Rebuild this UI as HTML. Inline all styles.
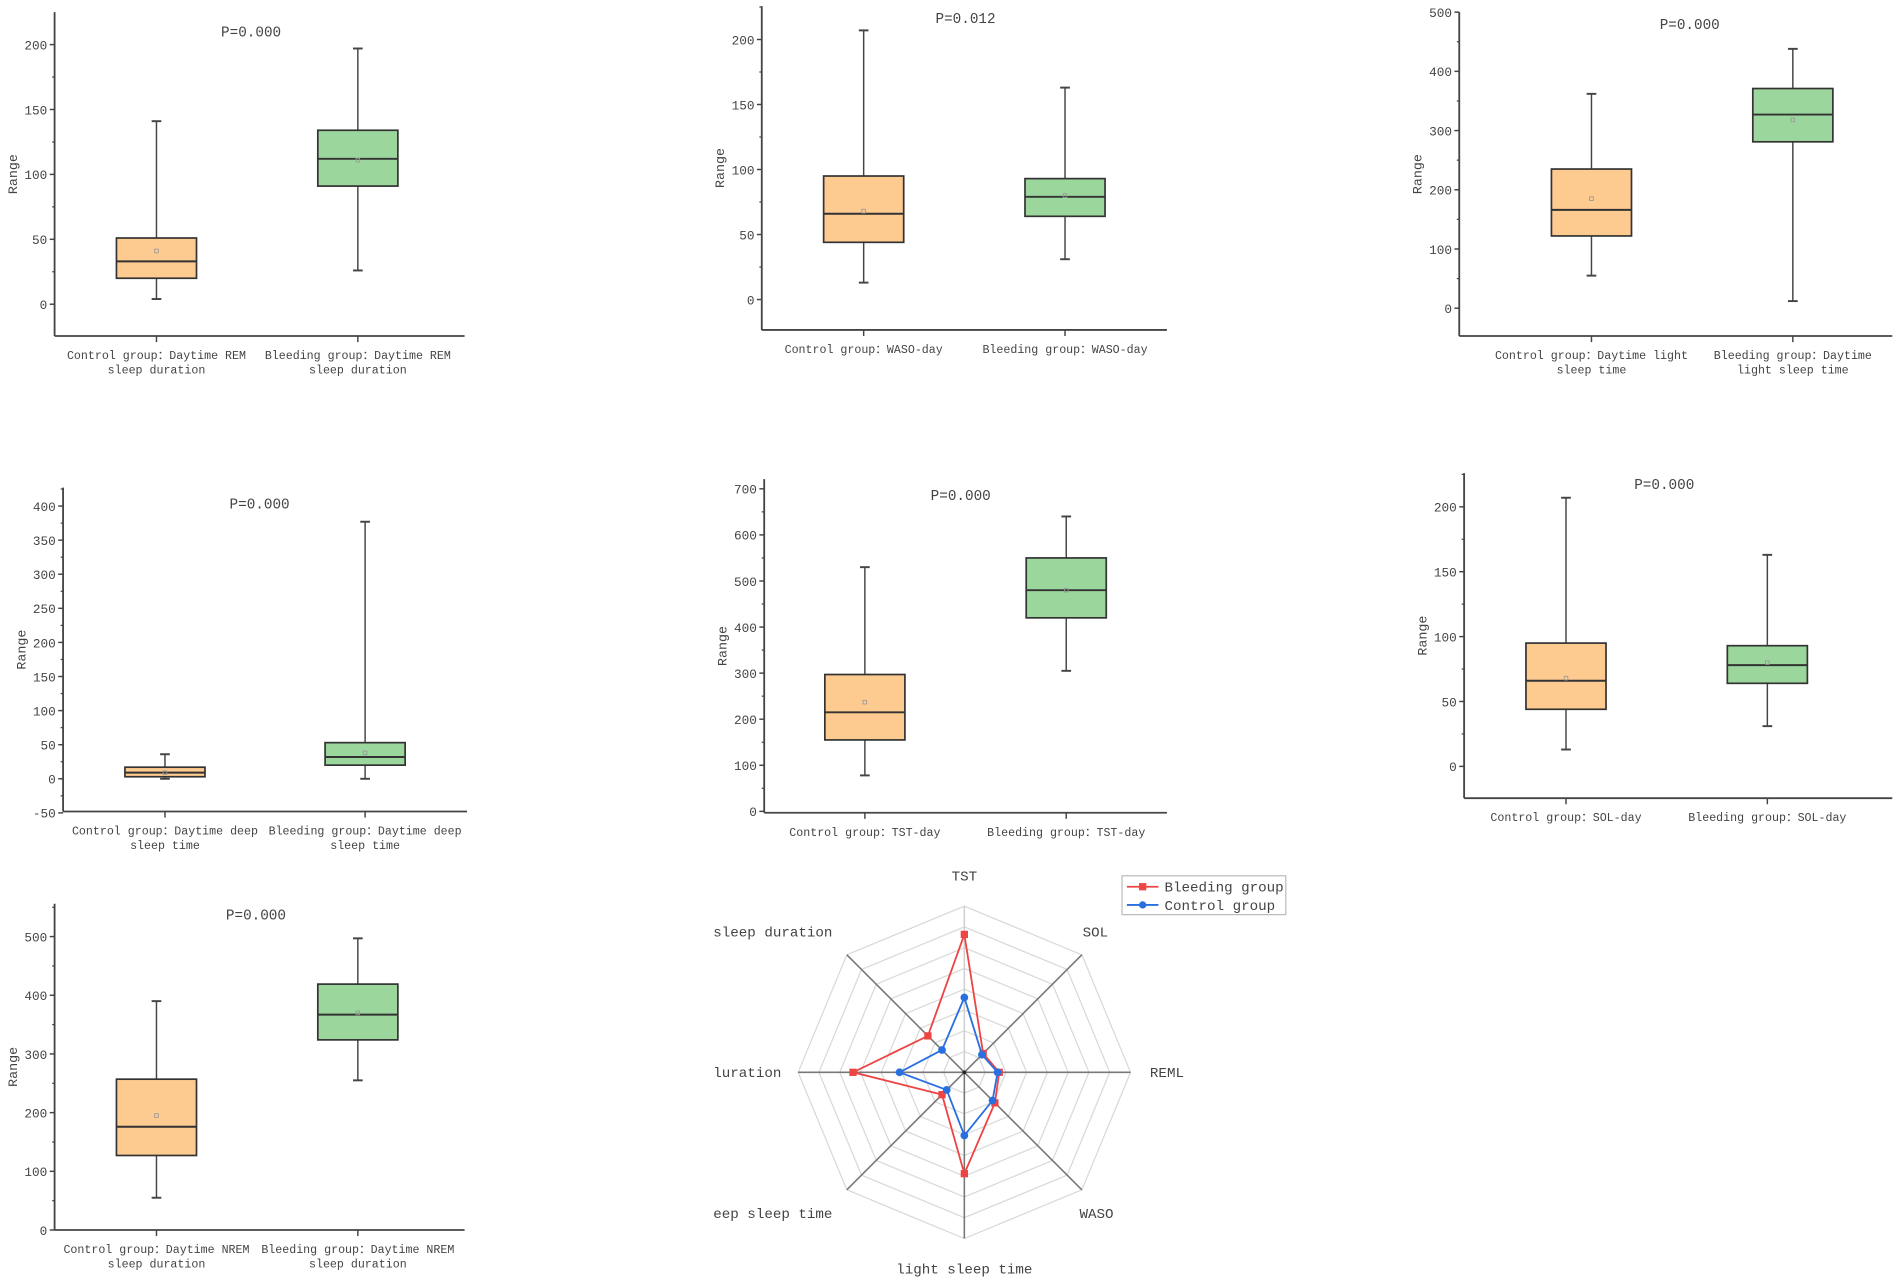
<!DOCTYPE html>
<html><head><meta charset="utf-8">
<style>
html,body{margin:0;padding:0;background:#fff;}
svg{display:block;}
text{font-family:"Liberation Mono","Noto Sans CJK SC",monospace;fill:#444;}
</style></head>
<body>
<svg id="root" width="1902" height="1284" viewBox="0 0 1568 1058.5" xmlns="http://www.w3.org/2000/svg"></svg>
<script>
// ---- Box plot data ----
const groups = ["Control group", "Bleeding group"];
const c1Labels = [["Control group：Daytime REM","sleep duration"],["Bleeding group：Daytime REM","sleep duration"]];
const c1Low=[4,26], c1Q1=[20,91], c1Med=[33,112], c1Q3=[51,134], c1High=[141,197], c1Mean=[41,111];
const c1Ticks=[0,50,100,150,200];
const c2Labels = [["Control group：WASO-day"],["Bleeding group：WASO-day"]];
const c2Low=[13,31], c2Q1=[44,64], c2Med=[66,79], c2Q3=[95,93], c2High=[207,163], c2Mean=[68,80];
const c2Ticks=[0,50,100,150,200];
const c3Labels = [["Control group：Daytime light","sleep time"],["Bleeding group：Daytime","light sleep time"]];
const c3Low=[55,12], c3Q1=[122,281], c3Med=[166,327], c3Q3=[235,371], c3High=[362,438], c3Mean=[185,318];
const c3Ticks=[0,100,200,300,400,500];
const c4Labels = [["Control group：Daytime deep","sleep time"],["Bleeding group：Daytime deep","sleep time"]];
const c4Low=[0,0], c4Q1=[3,20], c4Med=[9,32], c4Q3=[17,53], c4High=[36,377], c4Mean=[9,38];
const c4Ticks=[-50,0,50,100,150,200,250,300,350,400];
const c5Labels = [["Control group：TST-day"],["Bleeding group：TST-day"]];
const c5Low=[78,305], c5Q1=[155,420], c5Med=[215,480], c5Q3=[297,550], c5High=[530,640], c5Mean=[237,480];
const c5Ticks=[0,100,200,300,400,500,600,700];
const c6Labels = [["Control group：SOL-day"],["Bleeding group：SOL-day"]];
const c6Low=[13,31], c6Q1=[44,64], c6Med=[66,78], c6Q3=[95,93], c6High=[207,163], c6Mean=[68,80];
const c6Ticks=[0,50,100,150,200];
const c7Labels = [["Control group：Daytime NREM","sleep duration"],["Bleeding group：Daytime NREM","sleep duration"]];
const c7Low=[55,255], c7Q1=[127,324], c7Med=[176,367], c7Q3=[257,419], c7High=[390,497], c7Mean=[195,370];
const c7Ticks=[0,100,200,300,400,500];
const pValues=["P=0.000","P=0.012","P=0.000","P=0.000","P=0.000","P=0.000","P=0.000"];

// ---- Radar data ----
const radarAxes=["TST","SOL","REML","WASO","light sleep time","eep sleep time","luration","sleep duration"];
const radarBleeding=[0.83,0.16,0.21,0.26,0.61,0.19,0.67,0.31];
const radarControl=[0.45,0.15,0.20,0.24,0.38,0.15,0.39,0.19];

const NS="http://www.w3.org/2000/svg";
const root=document.getElementById('root');
function mk(tag,attrs,parent){const e=document.createElementNS(NS,tag);for(const k in attrs)e.setAttribute(k,attrs[k]);(parent||root).appendChild(e);return e;}

const layouts=[
 {ax:45,top:10,bot:277,right:383,vTop:225,vBot:-24.5,cx:[129,295],px:207,py:30},
 {ax:628,top:5,bot:272,right:962,vTop:225.7,vBot:-23.4,cx:[712,878],px:796,py:19},
 {ax:1203,top:10,bot:277,right:1560,vTop:500,vBot:-47,cx:[1312,1478],px:1393,py:24},
 {ax:52,top:402,bot:669,right:385,vTop:427,vBot:-48,cx:[136,301],px:214,py:419},
 {ax:630,top:395,bot:670,right:962,vTop:721,vBot:-3,cx:[713,879],px:792,py:412},
 {ax:1207,top:390,bot:658,right:1560,vTop:226,vBot:-24.5,cx:[1291,1457],px:1372,py:403},
 {ax:45,top:745,bot:1014,right:383,vTop:556,vBot:0,cx:[129,295],px:211,py:758}
];
const charts=[
 [c1Labels,c1Low,c1Q1,c1Med,c1Q3,c1High,c1Mean,c1Ticks],
 [c2Labels,c2Low,c2Q1,c2Med,c2Q3,c2High,c2Mean,c2Ticks],
 [c3Labels,c3Low,c3Q1,c3Med,c3Q3,c3High,c3Mean,c3Ticks],
 [c4Labels,c4Low,c4Q1,c4Med,c4Q3,c4High,c4Mean,c4Ticks],
 [c5Labels,c5Low,c5Q1,c5Med,c5Q3,c5High,c5Mean,c5Ticks],
 [c6Labels,c6Low,c6Q1,c6Med,c6Q3,c6High,c6Mean,c6Ticks],
 [c7Labels,c7Low,c7Q1,c7Med,c7Q3,c7High,c7Mean,c7Ticks]
];
const fills=["#fdca8f","#9bd69c"];

charts.forEach((c,i)=>{
  const L=layouts[i];
  const [labels,low,q1,med,q3,high,mean,ticks]=c;
  const y=v=>L.bot-(v-L.vBot)/(L.vTop-L.vBot)*(L.bot-L.top);
  const g=mk('g',{});
  
  
  const ya=mk('line',{x1:L.ax,y1:L.top,x2:L.ax,y2:L.bot,stroke:'#444','stroke-width':1.5},g);
  
  
  const xa=mk('line',{x1:L.ax,y1:L.bot,x2:L.right,y2:L.bot,stroke:'#444','stroke-width':1.5},g);
  
  
  const step=ticks[1]-ticks[0];
  ticks.forEach((t,k)=>{
    mk('line',{x1:L.ax-4,y1:y(t),x2:L.ax,y2:y(t),stroke:'#444','stroke-width':1.2},g);
    const mv=t+step/2;
    if(y(mv)>L.top) mk('line',{x1:L.ax-2,y1:y(mv),x2:L.ax,y2:y(mv),stroke:'#444','stroke-width':1},g);
    const tl=mk('text',{x:L.ax-6,y:y(t)+4,'text-anchor':'end','font-size':10.5},g);
    tl.textContent=t;
    
    
  });
  const ymid=(L.top+L.bot)/2;
  const yt=mk('text',{x:L.ax-31,y:ymid,'text-anchor':'middle','font-size':11,transform:`rotate(-90 ${L.ax-31} ${ymid})`},g);
  yt.textContent='Range';
  
  
  const pt=mk('text',{x:L.px,y:L.py,'text-anchor':'middle','font-size':11.8,fill:'#222'},g);
  pt.textContent=pValues[i];
  
  
  for(let j=0;j<2;j++){
    const cx=L.cx[j], hw=33;
    const bg=mk('g',{},g);
    
    
    mk('line',{x1:cx,y1:L.bot,x2:cx,y2:L.bot+5,stroke:'#444','stroke-width':1.2},bg);
    mk('line',{x1:cx,y1:y(high[j]),x2:cx,y2:y(low[j]),stroke:'#444','stroke-width':1.2},bg);
    mk('line',{x1:cx-4,y1:y(high[j]),x2:cx+4,y2:y(high[j]),stroke:'#444','stroke-width':1.6},bg);
    mk('line',{x1:cx-4,y1:y(low[j]),x2:cx+4,y2:y(low[j]),stroke:'#444','stroke-width':1.6},bg);
    mk('rect',{x:cx-hw,y:y(q3[j]),width:2*hw,height:y(q1[j])-y(q3[j]),fill:fills[j],stroke:'#333','stroke-width':1.4},bg);
    mk('line',{x1:cx-hw,y1:y(med[j]),x2:cx+hw,y2:y(med[j]),stroke:'#333','stroke-width':1.6},bg);
    mk('rect',{x:cx-1.5,y:y(mean[j])-1.5,width:3,height:3,fill:'none',stroke:'#999','stroke-width':0.7},bg);
    labels[j].forEach((s,k)=>{
      const t=mk('text',{x:cx,y:L.bot+19+k*12,'text-anchor':'middle','font-size':9.6},g);
      t.textContent=s;
      
      
    });
  }
});

// ---- Radar ----
const RC={x:795,y:884,r:137};
const rg=mk('g',{});


const n=radarAxes.length;
const ang=k=>-Math.PI/2+k*2*Math.PI/n;
const pt=(k,f)=>[RC.x+Math.cos(ang(k))*RC.r*f,RC.y+Math.sin(ang(k))*RC.r*f];
for(let ring=1;ring<=8;ring++){
  const f=ring/8;
  const pts=[];for(let k=0;k<n;k++)pts.push(pt(k,f).join(','));
  mk('polygon',{points:pts.join(' '),fill:'none',stroke:'#d8d8d8','stroke-width':1},rg);
}
for(let k=0;k<n;k++){
  const [x,y]=pt(k,1);
  mk('line',{x1:RC.x,y1:RC.y,x2:x,y2:y,stroke:k===0?'#d0d0d0':'#777','stroke-width':1.3},rg);
}
const labelPos=[[795,726,'middle'],[903,772,'middle'],[948,888,'start'],[904,1004,'middle'],[795,1050,'middle'],[588,1004,'start'],[588,888,'start'],[588,772,'start']];
radarAxes.forEach((a,k)=>{
  const t=mk('text',{x:labelPos[k][0],y:labelPos[k][1],'text-anchor':labelPos[k][2],'font-size':11.7},rg);
  t.textContent=a;
  
  
});
function series(vals,color,name,square){
  const sg=mk('g',{},rg);
  
  
  const pts=vals.map((v,k)=>pt(k,v));
  mk('polygon',{points:pts.map(p=>p.join(',')).join(' '),fill:'none',stroke:color,'stroke-width':1.5},sg);
  pts.forEach(p=>{
    if(square) mk('rect',{x:p[0]-3,y:p[1]-3,width:6,height:6,fill:color},sg);
    else mk('circle',{cx:p[0],cy:p[1],r:3.2,fill:color},sg);
  });
}
series(radarBleeding,'#ee4444','bleeding-series',true);
series(radarControl,'#2a6fe0','control-series',false);
mk('circle',{cx:RC.x,cy:RC.y,r:1.5,fill:'#222'},rg);

const lg=mk('g',{},rg);


mk('rect',{x:925,y:722,width:135,height:32,fill:'#fff',stroke:'#bbb','stroke-width':1},lg);
[['Bleeding group','#ee4444',735,true],['Control group','#2a6fe0',750,false]].forEach(e=>{
  const eg=mk('g',{},lg);
  
  
  mk('line',{x1:929,y1:e[2]-4,x2:955,y2:e[2]-4,stroke:e[1],'stroke-width':1.5},eg);
  if(e[3]) mk('rect',{x:939,y:e[2]-7,width:6,height:6,fill:e[1]},eg);
  else mk('circle',{cx:942,cy:e[2]-4,r:3,fill:e[1]},eg);
  const t=mk('text',{x:960,y:e[2],'font-size':11.7},eg);
  t.textContent=e[0];
});
</script>
</body></html>
